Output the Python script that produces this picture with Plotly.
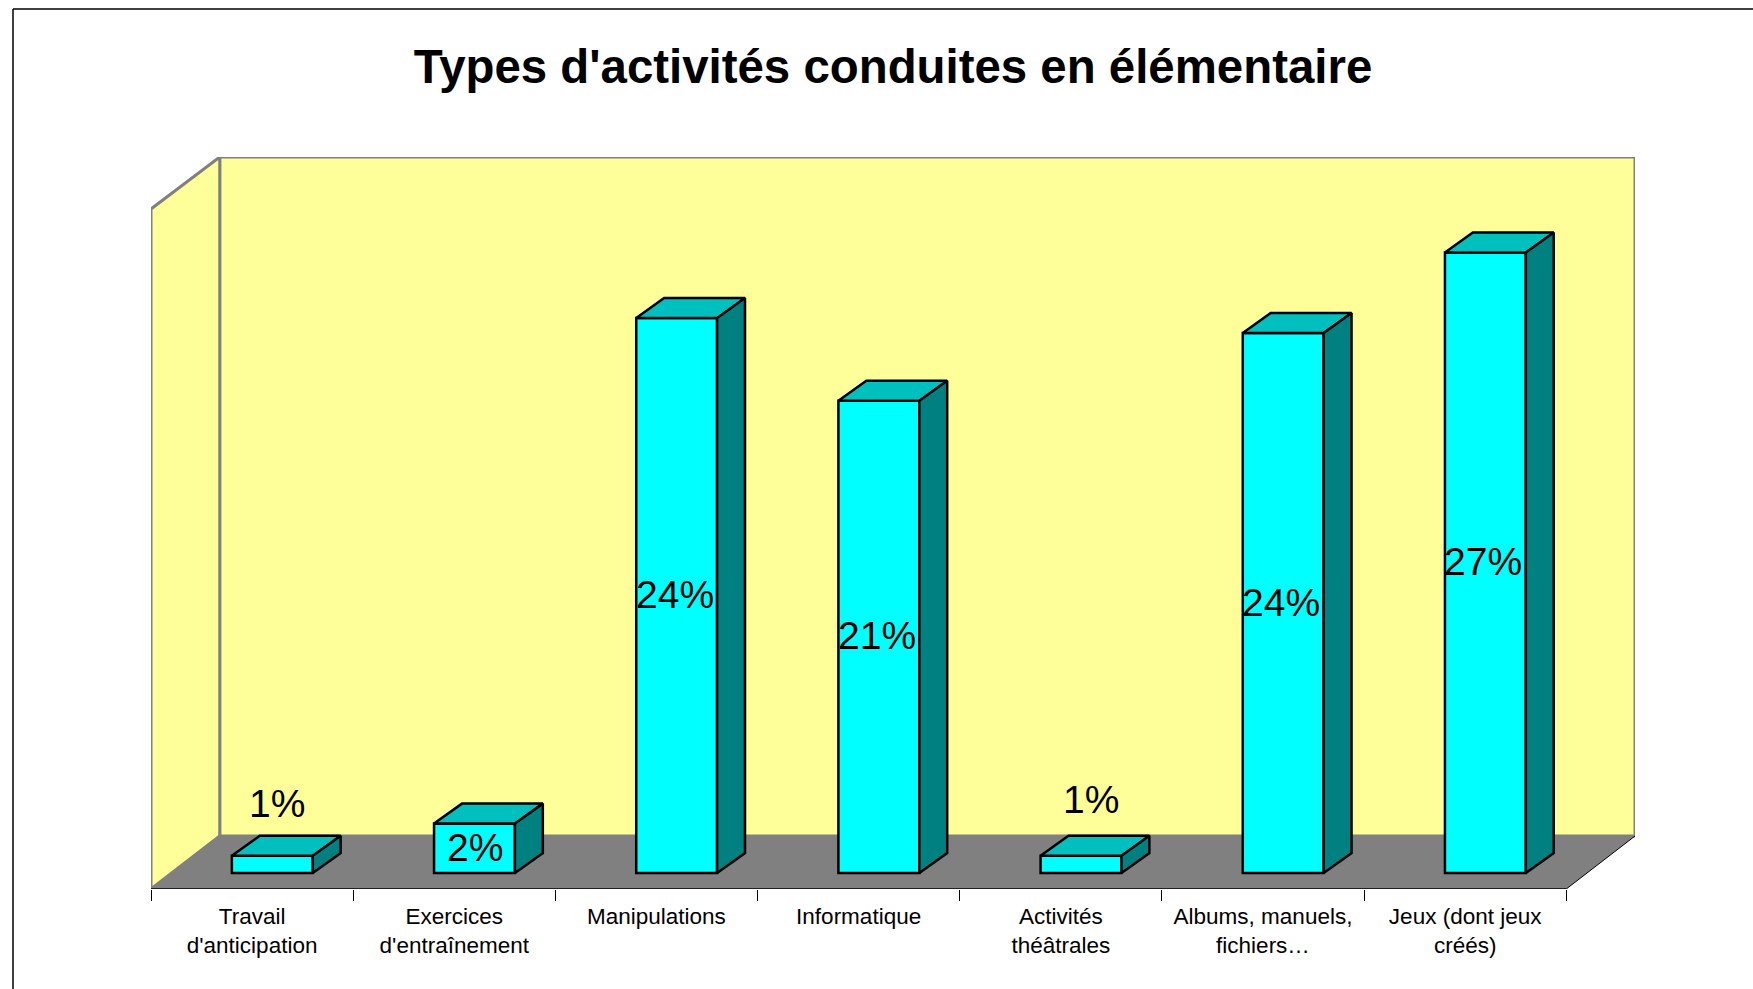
import plotly.graph_objects as go

TITLE = "Types d'activités conduites en élémentaire"
categories = ["Travail<br>d'anticipation", "Exercices<br>d'entraînement", "Manipulations", "Informatique",
              "Activités<br>théâtrales", "Albums, manuels,<br>fichiers…", "Jeux (dont jeux<br>créés)"]
values = [0.75, 2.15, 24.15, 20.55, 0.75, 23.5, 27.0]

FONT = "Liberation Sans"
FRONT = "#00FFFF"
TOP = "#00BFBF"
SIDE = "#008080"
WALL = "#FFFF99"
GREY = "#808080"

# pixel box of the plot area, the whole fake 3D box sits in it
WIDTH, HEIGHT = 1753, 989
LEFT, RIGHT, UP, DOWN = 151, 1635, 157, 889

X_MIN, X_MAX = -0.5, 6.84
Y_MIN, Y_MAX = -0.696, 31.16
X_DEPTH = X_MAX - 6.5
Y_BACK = 1.61
Y_WALL_FRONT = 28.9

BAR_WIDTH = 0.4
BAR_SHIFT = 0.1
DX, DY = 0.138, 0.87

# labels of the two flat bars sit above them, pixels
LABEL_SHIFT = {0: (5, 61), 1: (1, 1), 4: (10, 65)}


def paper_x(px):
    return (px - LEFT) / (RIGHT - LEFT)


def paper_y(py):
    return (DOWN - py) / (DOWN - UP)


def polygon(xs, ys, color):
    path = "M " + " L ".join(f"{x},{y}" for x, y in zip(xs, ys)) + " Z"
    return dict(type="path", path=path, xref="x", yref="y", fillcolor=color, layer="below",
                line=dict(color=GREY, width=3))


def face(xs, ys, color):
    return go.Scatter(x=xs + xs[:1], y=ys + ys[:1], mode="lines", fill="toself", fillcolor=color,
                      line=dict(color="black", width=2.5), hoverinfo="skip", cliponaxis=False)


positions = [i + BAR_SHIFT for i in range(len(values))]

fig = go.Figure()
fig.add_trace(go.Bar(x=positions, y=values, width=BAR_WIDTH, marker=dict(color=FRONT, line=dict(color="black", width=2.5)),
                     hoverinfo="skip"))

for pos, val in zip(positions, values):
    x0, x1 = pos - BAR_WIDTH / 2, pos + BAR_WIDTH / 2
    fig.add_trace(face([x0, x1, x1 + DX, x0 + DX], [val, val, val + DY, val + DY], TOP))
    fig.add_trace(face([x1, x1 + DX, x1 + DX, x1], [0, DY, val + DY, val], SIDE))

back_left = X_MIN + X_DEPTH
shapes = [
    polygon([back_left, X_MAX, X_MAX, back_left], [Y_BACK, Y_BACK, Y_MAX, Y_MAX], WALL),
    polygon([X_MIN, back_left, back_left, X_MIN], [Y_MIN, Y_BACK, Y_MAX, Y_WALL_FRONT], WALL),
    dict(type="path", path=f"M {X_MIN},{Y_MIN} L {back_left},{Y_BACK} L {X_MAX},{Y_BACK} L 6.5,{Y_MIN} Z",
         xref="x", yref="y", fillcolor=GREY, layer="below", line=dict(width=0)),
    dict(type="line", xref="x", yref="y", x0=X_MIN, x1=6.5, y0=Y_MIN, y1=Y_MIN, line=dict(color="black", width=1.5)),
    dict(type="line", xref="x", yref="y", x0=6.5, x1=X_MAX, y0=Y_MIN, y1=Y_BACK, line=dict(color="black", width=1)),
    # border of the chart area, runs off the page on the right and at the bottom
    dict(type="line", xref="paper", yref="paper", x0=paper_x(13), x1=paper_x(WIDTH), y0=paper_y(9), y1=paper_y(9),
         line=dict(color="black", width=1.5)),
    dict(type="line", xref="paper", yref="paper", x0=paper_x(13), x1=paper_x(13), y0=paper_y(9), y1=paper_y(HEIGHT),
         line=dict(color="black", width=1.5)),
]

annotations = []
for i, (pos, val) in enumerate(zip(positions, values)):
    xshift, yshift = LABEL_SHIFT.get(i, (-2, 1))
    annotations.append(dict(x=pos, y=val / 2, text=f"{val:.0f}%", showarrow=False, xshift=xshift, yshift=yshift,
                            xanchor="center", yanchor="middle", font=dict(family=FONT, size=39, color="black")))

fig.update_layout(
    width=WIDTH, height=HEIGHT,
    margin=dict(l=LEFT, r=WIDTH - RIGHT, t=UP, b=HEIGHT - DOWN, pad=0),
    paper_bgcolor="white", plot_bgcolor="white",
    showlegend=False,
    title=dict(text=TITLE, x=893 / WIDTH, xanchor="center", y=1 - 66 / HEIGHT, yanchor="middle",
               font=dict(family=FONT, size=47.4, color="black", weight="bold")),
    xaxis=dict(range=[X_MIN, X_MAX], tickmode="array", tickvals=list(range(len(categories))), ticktext=categories,
               ticks="outside", ticklen=7, tickcolor="rgba(0,0,0,0)", showgrid=False, zeroline=False, showline=False,
               tickfont=dict(family=FONT, size=22.5, color="black"), tickangle=0,
               minor=dict(tickmode="array", tickvals=[i - 0.5 for i in range(len(categories) + 1)], ticks="outside",
                          ticklen=11, tickwidth=1, tickcolor="black", showgrid=False)),
    yaxis=dict(range=[Y_MIN, Y_MAX], visible=False),
    shapes=shapes,
    annotations=annotations,
)

fig.write_html("out.html", config=dict(displayModeBar=False),
               post_script="document.body.style.margin='0';document.body.style.overflow='hidden';")
